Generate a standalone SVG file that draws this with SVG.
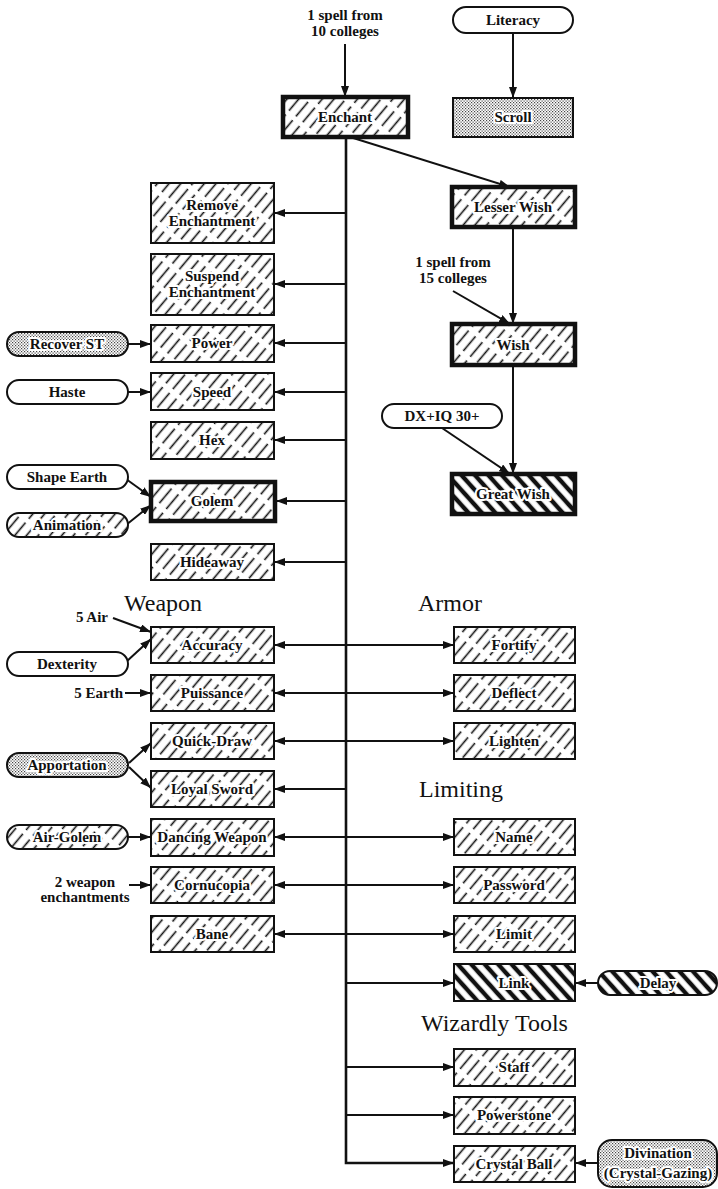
<svg xmlns="http://www.w3.org/2000/svg" width="718" height="1189" viewBox="0 0 718 1189">
<defs>
<pattern id="hatch" patternUnits="userSpaceOnUse" width="9" height="24" patternTransform="rotate(40)">
<rect width="9" height="24" fill="#fff"/>
<line x1="4.5" y1="0" x2="4.5" y2="24" stroke="#111" stroke-width="1.6" stroke-dasharray="19 5"/>
</pattern>
<pattern id="heavy" patternUnits="userSpaceOnUse" width="10" height="10" patternTransform="rotate(-42)">
<rect width="10" height="10" fill="#fff"/>
<line x1="5" y1="0" x2="5" y2="10" stroke="#111" stroke-width="4.4"/>
</pattern>
<pattern id="dots" patternUnits="userSpaceOnUse" width="3" height="3">
<rect width="3" height="3" fill="#fff"/>
<rect x="0" y="0" width="1.2" height="1.2" fill="#444"/>
<rect x="1.5" y="1.5" width="1.2" height="1.2" fill="#444"/>
</pattern>
<marker id="ah" viewBox="0 0 11 8" refX="11" refY="4" markerWidth="11" markerHeight="8" markerUnits="userSpaceOnUse" orient="auto-start-reverse">
<path d="M0,0 L11,4 L0,8 z" fill="#111"/>
</marker>
<style>
.box{stroke:#111;stroke-width:2;fill:url(#hatch)}
.thick{stroke-width:4.5}
.hv{fill:url(#heavy)}
.dot{fill:url(#dots)}
.plain{fill:#fff}
text{font-family:"Liberation Serif","Times New Roman",serif;fill:#111}
.lbl{font-weight:bold;font-size:15px;text-anchor:middle;paint-order:stroke;stroke:#fff;stroke-width:4;stroke-linejoin:round}
.note{font-weight:bold;font-size:15px;text-anchor:middle}
.end{text-anchor:end}
.head{font-size:24px}
.c{stroke:#111;stroke-width:2;fill:none}
.a{marker-end:url(#ah)}
.b{marker-start:url(#ah);marker-end:url(#ah)}
.trunk{stroke-width:2.6}
</style>
</defs>

<g id="connectors">
<path class="c a" d="M345,44 V97"/>
<path class="c a" d="M513,33 V98"/>
<path class="c trunk a" d="M346,137 V1163 H454"/>
<path class="c a" d="M350,137 L510,187"/>
<path class="c a" d="M513,227 V324"/>
<path class="c a" d="M453,291 L510,324"/>
<path class="c a" d="M513,365 V474"/>
<path class="c a" d="M442,428 L510,474"/>
<path class="c a" d="M346,213 H274"/>
<path class="c a" d="M346,284 H274"/>
<path class="c a" d="M346,343 H274"/>
<path class="c a" d="M346,392 H274"/>
<path class="c a" d="M346,440 H274"/>
<path class="c a" d="M346,501 H276"/>
<path class="c a" d="M346,562 H274"/>
<path class="c b" d="M274,645 H454"/>
<path class="c b" d="M274,693 H454"/>
<path class="c b" d="M274,741 H454"/>
<path class="c a" d="M346,789 H274"/>
<path class="c b" d="M274,837 H454"/>
<path class="c b" d="M274,885 H454"/>
<path class="c b" d="M274,934 H454"/>
<path class="c a" d="M346,983 H454"/>
<path class="c a" d="M346,1067 H454"/>
<path class="c a" d="M346,1115 H454"/>
<path class="c a" d="M128,344 H151"/>
<path class="c a" d="M128,392 H151"/>
<path class="c a" d="M126,479 L151,497"/>
<path class="c a" d="M126,525 L151,505"/>
<path class="c a" d="M113,618 L151,632"/>
<path class="c a" d="M126,662 L151,639"/>
<path class="c a" d="M125,693 H151"/>
<path class="c a" d="M129,763 L151,743"/>
<path class="c a" d="M129,767 L151,788"/>
<path class="c a" d="M128,837 H151"/>
<path class="c a" d="M129,885 H151"/>
<path class="c a" d="M598,983 H575"/>
<path class="c a" d="M598,1163 H575"/>
</g>

<g id="n-spell10"><text class="note" x="345" y="20">1 spell from</text><text class="note" x="345" y="36">10 colleges</text></g>
<g id="n-literacy"><rect class="box plain" x="453" y="7" width="120" height="26" rx="13"/><text class="lbl" x="513" y="25">Literacy</text></g>
<g id="n-enchant"><rect class="box thick" x="283" y="97" width="125" height="40"/><text class="lbl" x="345" y="122">Enchant</text></g>
<g id="n-scroll"><rect class="box dot" x="453" y="98" width="120" height="39"/><text class="lbl" x="513" y="122">Scroll</text></g>
<g id="n-lesserwish"><rect class="box thick" x="452" y="187" width="123" height="40"/><text class="lbl" x="513" y="212">Lesser Wish</text></g>
<g id="n-spell15"><text class="note" x="453" y="267">1 spell from</text><text class="note" x="453" y="283">15 colleges</text></g>
<g id="n-wish"><rect class="box thick" x="452" y="324" width="123" height="41"/><text class="lbl" x="513" y="350">Wish</text></g>
<g id="n-dxiq"><rect class="box plain" x="382" y="404" width="120" height="24" rx="12"/><text class="lbl" x="442" y="421">DX+IQ 30+</text></g>
<g id="n-greatwish"><rect class="box thick hv" x="452" y="474" width="123" height="40"/><text class="lbl" x="513" y="499">Great Wish</text></g>

<g id="n-remove"><rect class="box" x="151" y="183" width="123" height="60"/><text class="lbl" x="212" y="210">Remove</text><text class="lbl" x="212" y="226">Enchantment</text></g>
<g id="n-suspend"><rect class="box" x="151" y="254" width="123" height="61"/><text class="lbl" x="212" y="281">Suspend</text><text class="lbl" x="212" y="297">Enchantment</text></g>
<g id="n-recoverst"><rect class="box dot" x="7" y="332" width="121" height="24" rx="12"/><text class="lbl" x="67" y="349">Recover ST</text></g>
<g id="n-power"><rect class="box" x="151" y="325" width="123" height="37"/><text class="lbl" x="212" y="348">Power</text></g>
<g id="n-haste"><rect class="box plain" x="7" y="380" width="121" height="24" rx="12"/><text class="lbl" x="67" y="397">Haste</text></g>
<g id="n-speed"><rect class="box" x="151" y="373" width="123" height="37"/><text class="lbl" x="212" y="397">Speed</text></g>
<g id="n-hex"><rect class="box" x="151" y="422" width="123" height="37"/><text class="lbl" x="212" y="445">Hex</text></g>
<g id="n-shapeearth"><rect class="box plain" x="7" y="465" width="121" height="24" rx="12"/><text class="lbl" x="67" y="482">Shape Earth</text></g>
<g id="n-golem"><rect class="box thick" x="151" y="482" width="124" height="39"/><text class="lbl" x="212" y="506">Golem</text></g>
<g id="n-animation"><rect class="box" x="7" y="513" width="121" height="24" rx="12"/><text class="lbl" x="67" y="530">Animation</text></g>
<g id="n-hideaway"><rect class="box" x="151" y="544" width="123" height="36"/><text class="lbl" x="212" y="567">Hideaway</text></g>

<g id="h-weapon"><text class="head" x="124" y="611">Weapon</text></g>
<g id="h-armor"><text class="head" x="418" y="611">Armor</text></g>
<g id="n-5air"><text class="note end" x="108" y="622">5 Air</text></g>
<g id="n-accuracy"><rect class="box" x="151" y="627" width="123" height="36"/><text class="lbl" x="212" y="650">Accuracy</text></g>
<g id="n-dexterity"><rect class="box plain" x="7" y="652" width="121" height="24" rx="12"/><text class="lbl" x="67" y="669">Dexterity</text></g>
<g id="n-5earth"><text class="note end" x="123" y="698">5 Earth</text></g>
<g id="n-puissance"><rect class="box" x="151" y="675" width="123" height="36"/><text class="lbl" x="212" y="698">Puissance</text></g>
<g id="n-quickdraw"><rect class="box" x="151" y="723" width="123" height="36"/><text class="lbl" x="212" y="746">Quick-Draw</text></g>
<g id="n-apportation"><rect class="box dot" x="7" y="753" width="121" height="24" rx="12"/><text class="lbl" x="67" y="770">Apportation</text></g>
<g id="n-loyalsword"><rect class="box" x="151" y="771" width="123" height="36"/><text class="lbl" x="212" y="794">Loyal Sword</text></g>
<g id="n-airgolem"><rect class="box" x="7" y="825" width="121" height="24" rx="12"/><text class="lbl" x="67" y="842">Air-Golem</text></g>
<g id="n-dancing"><rect class="box" x="151" y="819" width="123" height="37"/><text class="lbl" x="212" y="842">Dancing Weapon</text></g>
<g id="n-2weapon"><text class="note" x="85" y="887">2 weapon</text><text class="note" x="85" y="902">enchantments</text></g>
<g id="n-cornucopia"><rect class="box" x="151" y="867" width="123" height="36"/><text class="lbl" x="212" y="890">Cornucopia</text></g>
<g id="n-bane"><rect class="box" x="151" y="916" width="123" height="36"/><text class="lbl" x="212" y="939">Bane</text></g>

<g id="n-fortify"><rect class="box" x="454" y="627" width="121" height="36"/><text class="lbl" x="514" y="650">Fortify</text></g>
<g id="n-deflect"><rect class="box" x="454" y="675" width="121" height="36"/><text class="lbl" x="514" y="698">Deflect</text></g>
<g id="n-lighten"><rect class="box" x="454" y="723" width="121" height="36"/><text class="lbl" x="514" y="746">Lighten</text></g>
<g id="h-limiting"><text class="head" x="419" y="797">Limiting</text></g>
<g id="n-name"><rect class="box" x="454" y="819" width="121" height="36"/><text class="lbl" x="514" y="842">Name</text></g>
<g id="n-password"><rect class="box" x="454" y="867" width="121" height="36"/><text class="lbl" x="514" y="890">Password</text></g>
<g id="n-limit"><rect class="box" x="454" y="916" width="121" height="36"/><text class="lbl" x="514" y="939">Limit</text></g>
<g id="n-link"><rect class="box hv" x="454" y="964" width="121" height="37"/><text class="lbl" x="514" y="988">Link</text></g>
<g id="n-delay"><rect class="box hv" x="598" y="971" width="119" height="24" rx="12"/><text class="lbl" x="658" y="988">Delay</text></g>
<g id="h-wizardly"><text class="head" x="421" y="1031">Wizardly Tools</text></g>
<g id="n-staff"><rect class="box" x="454" y="1049" width="121" height="37"/><text class="lbl" x="514" y="1072">Staff</text></g>
<g id="n-powerstone"><rect class="box" x="454" y="1097" width="121" height="37"/><text class="lbl" x="514" y="1120">Powerstone</text></g>
<g id="n-crystalball"><rect class="box" x="454" y="1146" width="121" height="36"/><text class="lbl" x="514" y="1169">Crystal Ball</text></g>
<g id="n-divination"><rect class="box dot" x="598" y="1140" width="119" height="47" rx="14"/><text class="lbl" x="658" y="1158">Divination</text><text class="lbl" x="658" y="1178">(Crystal-Gazing)</text></g>
</svg>
